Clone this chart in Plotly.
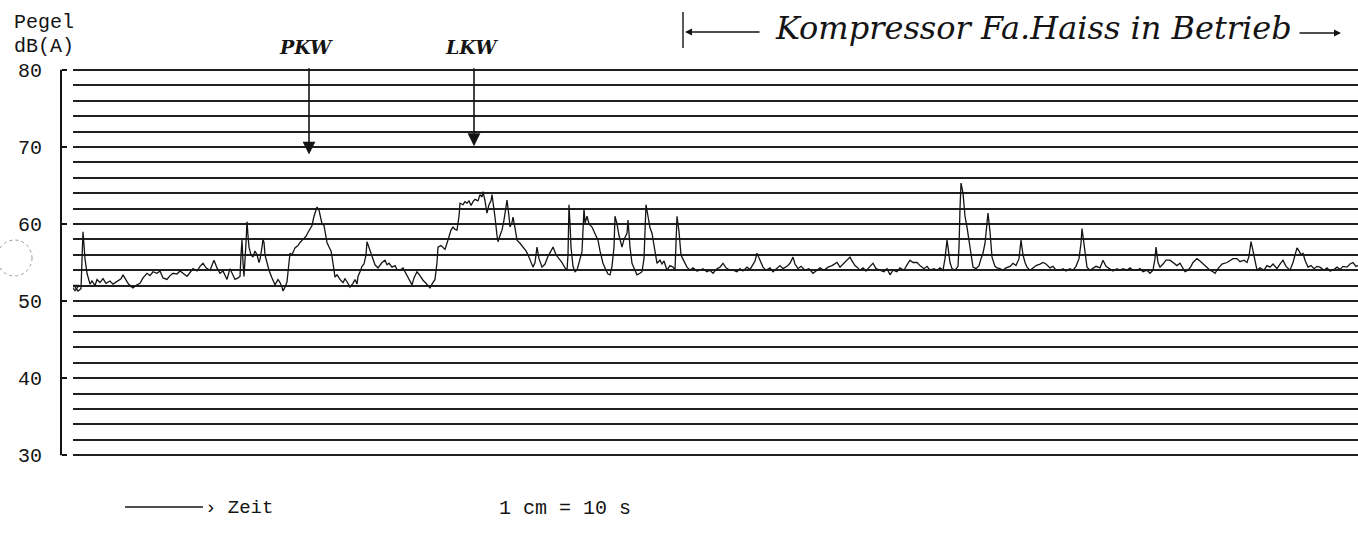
import plotly.graph_objects as go

# ---- data (time in chart units, level in dB(A)) ----
zeit = [2, 5, 8, 10, 12, 14, 17, 19, 22, 24, 27, 30, 33, 37, 40, 45, 48, 50, 53, 55, 58, 60, 64, 67, 70, 74, 77, 80, 84, 87,
        90, 94, 97, 100, 104, 107, 110, 114, 117, 120, 124, 127, 130, 133, 137, 139, 141, 144, 147, 150, 154, 157, 160, 162,
        165, 167, 168, 169, 170, 171, 173, 174, 175, 176, 178, 180, 182, 184, 186, 187, 189, 190, 191, 192, 194, 196, 199,
        202, 205, 207, 209, 210, 212, 214, 216, 217, 219, 222, 225, 227, 230, 233, 235, 237, 239, 241, 244, 246, 248, 249,
        251, 253, 254, 256, 258, 259, 260, 262, 264, 267, 270, 272, 274, 277, 280, 282, 284, 285, 287, 289, 291, 293, 294,
        296, 298, 300, 302, 305, 307, 309, 312, 314, 316, 319, 322, 324, 327, 330, 332, 335, 337, 339, 341, 344, 347, 350,
        353, 355, 357, 359, 361, 362, 364, 365, 368, 370, 372, 374, 376, 378, 380, 382, 384, 386, 387, 390, 392, 394, 396,
        398, 400, 402, 405, 407, 409, 410, 412, 414, 416, 418, 419, 421, 422, 424, 425, 427, 429, 431, 433, 434, 436, 437,
        439, 440, 442, 444, 447, 450, 453, 455, 457, 460, 462, 464, 466, 469, 472, 475, 478, 480, 483, 486, 489, 492, 494,
        495, 496, 497, 498, 500, 502, 504, 506, 509, 511, 512, 514, 516, 519, 521, 523, 525, 527, 530, 533, 535, 537, 539,
        541, 542, 544, 546, 549, 551, 554, 555, 557, 559, 562, 564, 567, 569, 571, 572, 573, 575, 577, 579, 581, 584, 587,
        589, 591, 594, 597, 600, 602, 603, 604, 606, 608, 609, 612, 614, 617, 620, 624, 627, 630, 634, 637, 640, 644, 647,
        650, 653, 657, 660, 664, 667, 670, 674, 677, 680, 682, 684, 686, 688, 690, 693, 697, 700, 704, 707, 710, 714, 717,
        720, 722, 725, 728, 732, 736, 740, 744, 747, 751, 755, 759, 762, 764, 767, 770, 774, 777, 779, 782, 784, 787, 790,
        793, 797, 800, 803, 807, 811, 814, 817, 820, 824, 827, 831, 834, 837, 840, 844, 847, 851, 854, 857, 861, 864, 867,
        870, 872, 874, 875, 877, 879, 882, 885, 886, 887, 888, 890, 892, 894, 896, 898, 900, 903, 906, 908, 910, 912, 914,
        915, 917, 919, 922, 924, 927, 930, 933, 937, 940, 943, 946, 947, 948, 950, 952, 954, 957, 960, 963, 967, 970, 973,
        977, 980, 983, 987, 990, 993, 997, 1000, 1003, 1006, 1008, 1009, 1011, 1013, 1014, 1017, 1020, 1023, 1027, 1030,
        1033, 1037, 1040, 1044, 1047, 1050, 1054, 1057, 1060, 1064, 1067, 1070, 1074, 1077, 1080, 1082, 1083, 1085, 1087,
        1090, 1093, 1097, 1100, 1104, 1107, 1110, 1112, 1115, 1118, 1120, 1124, 1127, 1130, 1134, 1137, 1140, 1142, 1145,
        1149, 1154, 1157, 1160, 1164, 1167, 1171, 1174, 1176, 1177, 1178, 1180, 1182, 1184, 1187, 1191, 1194, 1197, 1200,
        1204, 1207, 1210, 1213, 1217, 1220, 1222, 1224, 1226, 1228, 1230, 1232, 1235, 1238, 1241, 1244, 1247, 1251, 1254,
        1257, 1260, 1264, 1267, 1270, 1274, 1277, 1280, 1283, 1285]

pegel = [51.8, 51.3, 51.6, 59.0, 55.5, 53.6, 52.2, 52.6, 52.0, 52.8, 52.4, 52.9, 52.3, 52.6, 52.2, 52.6, 52.9, 53.4, 52.8,
         52.3, 51.9, 51.7, 52.1, 52.3, 53.0, 53.6, 53.3, 53.8, 53.6, 53.9, 53.0, 52.8, 53.3, 53.6, 53.5, 53.9, 53.6, 53.2,
         53.7, 54.2, 53.9, 54.5, 54.9, 54.3, 54.0, 54.7, 55.3, 54.3, 53.6, 53.9, 52.8, 54.2, 53.2, 52.8, 53.0, 53.2, 56.0,
         57.9, 55.0, 53.2, 57.5, 60.3, 58.5, 57.0, 56.0, 55.7, 56.5, 56.0, 55.0, 55.4, 57.0, 58.0, 57.6, 56.0, 55.0, 54.0,
         53.0, 52.1, 52.8, 52.4, 51.8, 51.3, 51.8, 52.5, 55.0, 56.2, 56.0, 56.9, 57.2, 57.6, 58.0, 58.4, 58.9, 59.3, 59.8,
         61.0, 62.2, 61.8, 60.5, 60.0, 59.8, 58.0, 57.6, 57.0, 56.5, 55.8, 55.0, 53.1, 53.4, 52.8, 52.4, 52.9, 52.5, 51.8,
         52.3, 52.8, 52.2, 53.2, 53.8, 54.5, 54.8, 56.0, 57.7, 57.0, 56.2, 55.5, 54.7, 54.3, 54.6, 55.0, 55.3, 54.7, 54.9,
         54.4, 54.6, 54.1, 54.0, 54.3, 53.8, 53.1, 52.5, 52.1, 53.0, 53.8, 53.3, 52.7, 52.3, 52.0, 51.7, 52.2, 52.7, 52.8,
         55.0, 57.0, 57.2, 56.9, 56.7, 57.5, 58.5, 59.2, 59.6, 59.3, 59.2, 61.0, 62.7, 62.5, 62.9, 62.7, 63.0, 62.4, 62.9,
         63.2, 63.0, 63.8, 63.5, 64.2, 63.0, 61.4, 62.5, 63.0, 63.8, 62.0, 60.9, 58.5, 57.7, 58.5, 59.2, 60.5, 62.5, 63.1,
         61.0, 59.6, 60.2, 60.9, 59.5, 57.9, 57.5, 57.0, 56.5, 56.0, 55.3, 54.4, 55.0, 57.0, 55.5, 54.4, 54.8, 55.8, 56.5,
         57.0, 56.0, 55.5, 55.0, 54.3, 54.0, 56.0, 62.5, 60.0, 57.0, 54.5, 53.8, 54.0, 55.0, 56.4, 62.0, 60.1, 61.0, 60.0,
         59.6, 59.0, 58.5, 57.9, 56.5, 54.9, 54.0, 53.5, 53.4, 54.5, 57.0, 61.0, 60.0, 58.5, 57.0, 58.0, 58.8, 60.5, 57.0,
         54.9, 54.0, 53.4, 53.6, 53.8, 55.5, 60.5, 62.5, 61.0, 59.5, 58.8, 57.0, 54.9, 55.3, 54.8, 55.2, 54.0, 54.6, 54.4,
         54.0, 57.0, 61.0, 59.0, 56.0, 55.7, 54.8, 54.4, 54.0, 54.3, 53.9, 54.0, 54.2, 53.8, 54.0, 53.6, 54.2, 54.4, 54.9,
         54.3, 54.0, 54.0, 53.8, 54.2, 53.9, 54.4, 54.1, 54.8, 55.2, 56.2, 55.6, 54.8, 54.4, 54.0, 54.3, 53.8, 54.3, 54.6,
         54.2, 54.5, 54.9, 55.7, 54.8, 54.2, 54.5, 54.0, 54.2, 53.6, 54.0, 54.3, 54.0, 54.4, 54.6, 54.8, 55.0, 54.4, 54.8,
         55.2, 55.7, 55.2, 54.6, 54.4, 54.0, 54.3, 53.9, 54.5, 54.9, 54.2, 54.0, 53.8, 54.2, 53.4, 54.0, 53.8, 54.3, 54.0,
         54.7, 55.3, 55.0, 55.0, 54.6, 54.2, 54.5, 54.0, 54.2, 54.0, 54.3, 54.0, 55.5, 57.9, 57.0, 55.0, 54.2, 54.0, 54.5,
         57.0, 62.0, 65.3, 64.0, 61.0, 59.6, 58.0, 56.0, 54.4, 54.2, 54.6, 55.5, 56.2, 57.5, 60.0, 61.4, 59.0, 55.7, 54.5,
         54.3, 54.2, 54.0, 54.3, 54.5, 54.9, 54.6, 55.5, 57.0, 57.9, 56.0, 55.0, 54.4, 54.0, 54.3, 54.6, 54.8, 55.0, 54.8,
         54.3, 54.5, 54.0, 54.0, 54.2, 53.9, 54.2, 54.0, 54.5, 55.5, 57.5, 59.4, 57.5, 55.5, 54.4, 54.0, 54.2, 54.5, 54.3,
         55.3, 54.5, 54.2, 53.9, 54.2, 54.0, 54.2, 54.0, 54.3, 54.0, 54.0, 54.2, 53.8, 54.0, 53.6, 54.0, 55.5, 57.0, 55.0,
         54.4, 54.8, 55.3, 55.3, 55.0, 54.6, 54.9, 54.2, 53.8, 54.0, 54.5, 55.0, 55.5, 55.2, 54.8, 54.4, 54.0, 53.8, 53.6,
         54.2, 54.8, 55.0, 55.3, 55.5, 55.5, 55.1, 55.3, 55.0, 55.8, 57.0, 57.7, 56.5, 55.0, 54.0, 54.3, 54.0, 54.6, 54.4,
         54.8, 54.2, 54.8, 55.3, 54.5, 54.0, 55.0, 56.0, 56.9, 56.5, 56.0, 56.2, 55.3, 54.4, 54.6, 54.2, 54.5, 54.4, 54.0,
         54.3, 53.9, 54.0, 54.4, 54.1, 54.5, 54.4, 54.8, 55.0, 54.5, 54.6]

y_ticks = [30, 40, 50, 60, 70, 80]
y_ticktext = ["30", "40", "50", "60", "70", "80"]

# events marked on the recording: (label, time, level at arrow tip)
ereignisse = ["PKW", "LKW"]
ereignis_zeit = [236, 401]
ereignis_pegel = [69.0, 70.1]

n = min(len(zeit), len(pegel))
zeit, pegel = zeit[:n], pegel[:n]

W, H = 1358, 547
ML, MR, MT, MB = 61, 0, 66, 88
PW, PH = W - ML - MR, H - MT - MB


def px(x):
    return (x - ML) / PW


def py(y):
    return (H - MB - y) / PH


mono = "Liberation Mono, DejaVu Sans Mono, monospace"
hand = "DejaVu Serif, Liberation Serif, serif"
ink = "#141414"
grid = "#202020"

fig = go.Figure()
fig.add_trace(go.Scatter(x=zeit, y=pegel, mode="lines",
                         line=dict(color=ink, width=1.3), hoverinfo="skip", showlegend=False))
fig.add_trace(go.Scatter(x=zeit[:1], y=pegel[:1], mode="markers",
                         marker=dict(symbol="triangle-down-open", size=7, color=ink, line=dict(width=1.2)),
                         hoverinfo="skip", showlegend=False))

annotations = [
    dict(text="Pegel", x=px(12), y=py(22), xref="paper", yref="paper", xanchor="left", yanchor="middle",
         showarrow=False, font=dict(family=mono, size=20, color=ink)),
    dict(text="dB(A)", x=px(12), y=py(46), xref="paper", yref="paper", xanchor="left", yanchor="middle",
         showarrow=False, font=dict(family=mono, size=20, color=ink)),
    dict(text="<i>Kompressor Fa.Haiss in Betrieb</i>", x=px(1033), y=py(28), xref="paper", yref="paper",
         xanchor="center", yanchor="middle", showarrow=False, font=dict(family=hand, size=32, color=ink)),
    dict(text="", x=px(685), y=py(32), xref="paper", yref="paper", ax=76, ay=0, showarrow=True,
         arrowhead=2, arrowsize=1, arrowwidth=1.4, arrowcolor=ink, standoff=0),
    dict(text="", x=px(1341), y=py(33), xref="paper", yref="paper", ax=-43, ay=0, showarrow=True,
         arrowhead=2, arrowsize=1, arrowwidth=1.4, arrowcolor=ink, standoff=0),
    dict(text="› Zeit", x=px(203), y=py(508), xref="paper", yref="paper", xanchor="left", yanchor="middle",
         showarrow=False, font=dict(family=mono, size=19, color=ink)),
    dict(text="1 cm = 10 s", x=px(497), y=py(508), xref="paper", yref="paper", xanchor="left", yanchor="middle",
         showarrow=False, font=dict(family=mono, size=20, color=ink)),
]
for name, t, lv in zip(ereignisse, ereignis_zeit, ereignis_pegel):
    annotations.append(dict(text="<i><b>%s</b></i>" % name, x=t, y=py(47), xref="x", yref="paper",
                            xanchor="center", yanchor="middle", showarrow=False, xshift=-3,
                            font=dict(family=hand, size=19, color=ink)))
    annotations.append(dict(text="", x=t, y=lv, xref="x", yref="y", ax=t, ay=80.4, axref="x", ayref="y",
                            showarrow=True, arrowhead=2, arrowsize=1.6, arrowwidth=1.6, arrowcolor=ink, standoff=0))

shapes = [
    # y axis line from 30 to 80 dB
    dict(type="line", xref="paper", yref="y", x0=0, x1=0, y0=y_ticks[0], y1=y_ticks[-1],
         line=dict(color=ink, width=2)),
    dict(type="line", xref="paper", yref="paper", x0=px(683), x1=px(683), y0=py(12), y1=py(48),
         line=dict(color=ink, width=1.4)),
    dict(type="line", xref="paper", yref="paper", x0=px(125), x1=px(203), y0=py(507), y1=py(507),
         line=dict(color=ink, width=1.3)),
    dict(type="circle", xref="paper", yref="paper", x0=px(-3), x1=px(32), y0=py(240), y1=py(276),
         line=dict(color="#9a9a9a", width=1, dash="dot")),
]

fig.update_layout(
    width=W, height=H,
    margin=dict(l=ML, r=MR, t=MT, b=MB),
    paper_bgcolor="white", plot_bgcolor="white",
    showlegend=False,
    xaxis=dict(domain=[12 / PW, 1], range=[0, 1285], visible=False, showgrid=False, zeroline=False),
    yaxis=dict(range=[29.5, 80.5], anchor="free", position=0, showline=False,
               ticks="inside", ticklen=5, tickwidth=2, tickcolor=ink, tickvals=y_ticks, ticktext=y_ticktext,
               tickfont=dict(family=mono, size=20, color=ink), ticklabelstandoff=19,
               showgrid=True, gridcolor=grid, gridwidth=2, zeroline=False,
               minor=dict(dtick=2, showgrid=True, gridcolor=grid, gridwidth=2, ticks="")),
    annotations=annotations,
    shapes=shapes,
)

fig.write_html("out.html", config={"displayModeBar": False, "staticPlot": True},
               post_script="document.body.style.margin='0';")
